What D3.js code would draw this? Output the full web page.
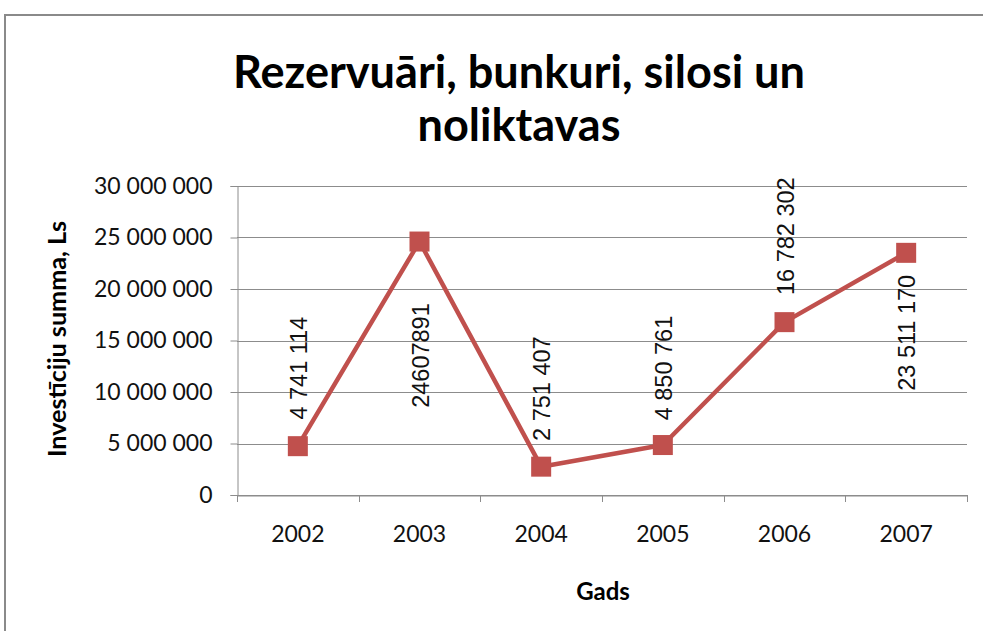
<!DOCTYPE html>
<html>
<head>
<meta charset="utf-8">
<script src="https://cdn.jsdelivr.net/npm/d3@7"></script>
<style>
  body { margin: 0; background: #fff; }
</style>
</head>
<body>
<div id="chart-area"></div>
<script>
// data
var years = ['2002', '2003', '2004', '2005', '2006', '2007']
var values = [4741114, 24607891, 2751407, 4850761, 16782302, 23511170]
var valueLabels = ['4 741 114', '24607891', '2 751 407', '4 850 761', '16 782 302', '23 511 170']
var yTicks = [0, 5000000, 10000000, 15000000, 20000000, 25000000, 30000000]

var width = 983
var height = 631
var margin = { left: 237, right: 16, top: 186, bottom: 136 }
var plotW = width - margin.left - margin.right
var plotH = height - margin.top - margin.bottom

// label centre offset from the marker (px, + = below), placed like the source
var labelShift = [-78, 114, -78, -77, -86, 80]

var svg = d3.select("#chart-area").append("svg")
    .attr("width", width)
    .attr("height", height)

// chart frame
svg.append("rect")
    .attr("x", 5)
    .attr("y", 15)
    .attr("width", 1000)
    .attr("height", 700)
    .style("fill", "none")
    .style("stroke", "#8a8a8a")
    .style("stroke-width", 2)

var g = svg.append("g")
    .attr("transform", "translate(" + margin.left + "," + margin.top + ")")

var xScale = d3.scaleBand()
    .domain(years)
    .range([0, plotW])

var yScale = d3.scaleLinear()
    .domain([0, 30000000])
    .range([plotH, 0])

var fmt = function(d) { return d3.format(",")(d).replace(/,/g, " ") }

// gridlines
g.selectAll(".grid").data(yTicks).enter()
    .append("line")
    .attr("class", "grid")
    .attr("x1", 0)
    .attr("x2", plotW)
    .attr("y1", function(d) { return Math.round(yScale(d)) + 0.5 })
    .attr("y2", function(d) { return Math.round(yScale(d)) + 0.5 })
    .style("stroke", "#8c8c8c")
    .style("stroke-width", 1)

// Y axis
var yAxisGroup = g.append("g")
    .attr("class", "y-axis")
    .attr("transform", "translate(0.5,0)")
    .call(d3.axisLeft(yScale).tickValues(yTicks).tickFormat(fmt).tickSize(7).tickPadding(18))
yAxisGroup.select(".domain").style("stroke", "#8c8c8c")
yAxisGroup.selectAll("line").style("stroke", "#8c8c8c")
yAxisGroup.selectAll("text")
    .style("font-family", "Lato")
    .style("font-size", "23px")
    .style("fill", "#111")

// X axis
var xAxisGroup = g.append("g")
    .attr("class", "x-axis")
    .attr("transform", "translate(0," + (Math.round(plotH) + 0.5) + ")")
    .call(d3.axisBottom(xScale).tickSize(0).tickPadding(30))
xAxisGroup.select(".domain").style("stroke", "#8c8c8c")
xAxisGroup.selectAll("text")
    .style("font-family", "Lato")
    .style("font-size", "23px")
    .style("fill", "#111")

// category boundary ticks
var bounds = d3.range(years.length + 1).map(function(i) { return i * xScale.step() })
g.selectAll(".xtick").data(bounds).enter()
    .append("line")
    .attr("class", "xtick")
    .attr("x1", function(d) { return Math.round(d) + 0.5 })
    .attr("x2", function(d) { return Math.round(d) + 0.5 })
    .attr("y1", plotH)
    .attr("y2", plotH + 7)
    .style("stroke", "#8c8c8c")

// line
var cx = function(d, i) { return xScale(years[i]) + xScale.bandwidth() / 2 }
var line = d3.line()
    .x(function(d, i) { return cx(d, i) })
    .y(function(d) { return yScale(d) })

g.append("path")
    .datum(values)
    .attr("d", line)
    .style("fill", "none")
    .style("stroke", "#c0504d")
    .style("stroke-width", 4.5)
    .style("stroke-linejoin", "round")

// markers
g.selectAll(".marker").data(values).enter()
    .append("rect")
    .attr("class", "marker")
    .attr("x", function(d, i) { return cx(d, i) - 10 })
    .attr("y", function(d) { return yScale(d) - 10 })
    .attr("width", 20)
    .attr("height", 20)
    .style("fill", "#c0504d")

// data labels, vertical
g.selectAll(".vlabel").data(values).enter()
    .append("text")
    .attr("class", "vlabel")
    .attr("transform", function(d, i) {
        return "translate(" + (cx(d, i) + 9) + "," + (yScale(d) + labelShift[i]) + ") rotate(-90)"
    })
    .style("text-anchor", "middle")
    .style("font-family", "Liberation Sans")
    .style("font-size", "23.5px")
    .style("fill", "#111")
    .text(function(d, i) { return valueLabels[i] })

// title
var title = svg.append("text")
    .style("text-anchor", "middle")
    .style("font-family", "Lato")
    .style("font-weight", "bold")
    .style("font-size", "46px")
    .style("fill", "#000")
title.append("tspan").attr("x", 519).attr("y", 88)
    .attr("textLength", 572).attr("lengthAdjust", "spacingAndGlyphs")
    .text("Rezervuāri, bunkuri, silosi un")
title.append("tspan").attr("x", 519).attr("y", 141)
    .attr("textLength", 203).attr("lengthAdjust", "spacingAndGlyphs")
    .text("noliktavas")

// axis titles
svg.append("text")
    .attr("transform", "translate(66," + 339 + ") rotate(-90)")
    .style("text-anchor", "middle")
    .style("font-family", "Lato")
    .style("font-weight", "bold")
    .style("font-size", "24px")
    .attr("textLength", 236).attr("lengthAdjust", "spacingAndGlyphs")
    .style("fill", "#000")
    .text("Investīciju summa, Ls")

svg.append("text")
    .attr("x", 603)
    .attr("y", 600)
    .style("text-anchor", "middle")
    .style("font-family", "Lato")
    .style("font-weight", "bold")
    .style("font-size", "24px")
    .style("fill", "#000")
    .text("Gads")
</script>
</body>
</html>
